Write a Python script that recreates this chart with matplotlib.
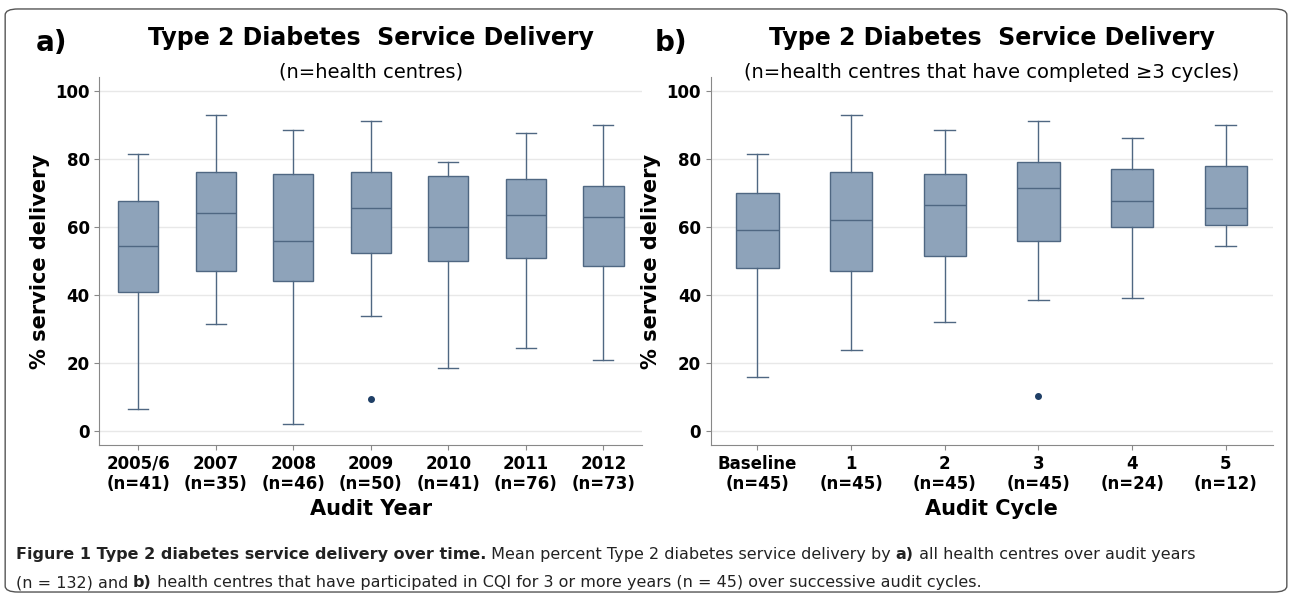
import matplotlib
matplotlib.use("Agg")
import matplotlib.pyplot as plt
from matplotlib.patches import FancyBboxPatch

years = ["2005/6\n(n=41)", "2007\n(n=35)", "2008\n(n=46)", "2009\n(n=50)", "2010\n(n=41)", "2011\n(n=76)", "2012\n(n=73)"]
a_low = [6.5, 31.5, 2, 34, 18.5, 24.5, 21]
a_q1 = [41, 47, 44, 52.5, 50, 51, 48.5]
a_med = [54.5, 64, 56, 65.5, 60, 63.5, 63]
a_q3 = [67.5, 76, 75.5, 76, 75, 74, 72]
a_high = [81.5, 93, 88.5, 91, 79, 87.5, 90]
a_out = [[], [], [], [9.5], [], [], []]

cycles = ["Baseline\n(n=45)", "1\n(n=45)", "2\n(n=45)", "3\n(n=45)", "4\n(n=24)", "5\n(n=12)"]
b_low = [16, 24, 32, 38.5, 39, 54.5]
b_q1 = [48, 47, 51.5, 56, 60, 60.5]
b_med = [59, 62, 66.5, 71.5, 67.5, 65.5]
b_q3 = [70, 76, 75.5, 79, 77, 78]
b_high = [81.5, 93, 88.5, 91, 86, 90]
b_out = [[], [], [], [10.5], [], []]

FACE = "#8ea3ba"
EDGE = "#4f6782"

fig = plt.figure(figsize=(12.92, 5.98), dpi=100)
fig.patches.append(FancyBboxPatch((0.004, 0.01), 0.992, 0.975, boxstyle="round,pad=0,rounding_size=0.01",
                                  transform=fig.transFigure, fill=False, ec="#555555", lw=1))

def panel(rect, labels, lo, q1, med, q3, hi, out, title, sub, xlabel, letter, lx, w):
    ax = fig.add_axes(rect)
    stats = [dict(whislo=l, q1=a, med=m, q3=b, whishi=h, fliers=o, label=lab)
             for l, a, m, b, h, o, lab in zip(lo, q1, med, q3, hi, out, labels)]
    ax.bxp(stats, widths=w, patch_artist=True, showcaps=True,
           boxprops=dict(facecolor=FACE, edgecolor=EDGE, lw=1),
           medianprops=dict(color=EDGE, lw=1),
           whiskerprops=dict(color=EDGE, lw=1), capprops=dict(color=EDGE, lw=1),
           flierprops=dict(marker="o", markerfacecolor="#1f3f66", markeredgecolor="#1f3f66", markersize=4))
    ax.set_ylim(-4, 104)
    ax.set_yticks([0, 20, 40, 60, 80, 100])
    ax.yaxis.grid(True, color="#e8e8e8", lw=1)
    ax.set_axisbelow(True)
    for s in ["top", "right"]:
        ax.spines[s].set_visible(False)
    ax.spines["left"].set_color("#888888")
    ax.spines["bottom"].set_color("#888888")
    ax.tick_params(axis="both", labelsize=12, colors="#888888", labelcolor="black")
    for t in ax.get_xticklabels() + ax.get_yticklabels():
        t.set_fontweight("bold")
    ax.set_ylabel("% service delivery", fontsize=15, fontweight="bold")
    ax.set_xlabel(xlabel, fontsize=15, fontweight="bold")
    x0 = rect[0] + rect[2] / 2
    fig.text(x0, 0.925, title, ha="center", fontsize=17, fontweight="bold")
    fig.text(x0, 0.87, sub, ha="center", fontsize=14)
    fig.text(lx, 0.915, letter, fontsize=20, fontweight="bold")
    return ax

panel([0.077, 0.256, 0.42, 0.615], years, a_low, a_q1, a_med, a_q3, a_high, a_out,
      "Type 2 Diabetes  Service Delivery", "(n=health centres)", "Audit Year", "a)", 0.028, 0.52)
panel([0.55, 0.256, 0.435, 0.615], cycles, b_low, b_q1, b_med, b_q3, b_high, b_out,
      "Type 2 Diabetes  Service Delivery", "(n=health centres that have completed \u22653 cycles)", "Audit Cycle", "b)", 0.507, 0.45)

fig.canvas.draw()
r = fig.canvas.get_renderer()
def seq(x, y, parts):
    for txt, bold in parts:
        t = fig.text(x, y, txt, fontsize=11.5, fontweight="bold" if bold else "normal", color="#222222")
        bb = t.get_window_extent(renderer=r)
        x += bb.width / fig.bbox.width
seq(0.012, 0.065, [("Figure 1 Type 2 diabetes service delivery over time.", True),
                   (" Mean percent Type 2 diabetes service delivery by ", False), ("a)", True),
                   (" all health centres over audit years", False)])
seq(0.012, 0.018, [("(n = 132) and ", False), ("b)", True),
                   (" health centres that have participated in CQI for 3 or more years (n = 45) over successive audit cycles.", False)])
fig.savefig("out.png", dpi=100, facecolor="white")
